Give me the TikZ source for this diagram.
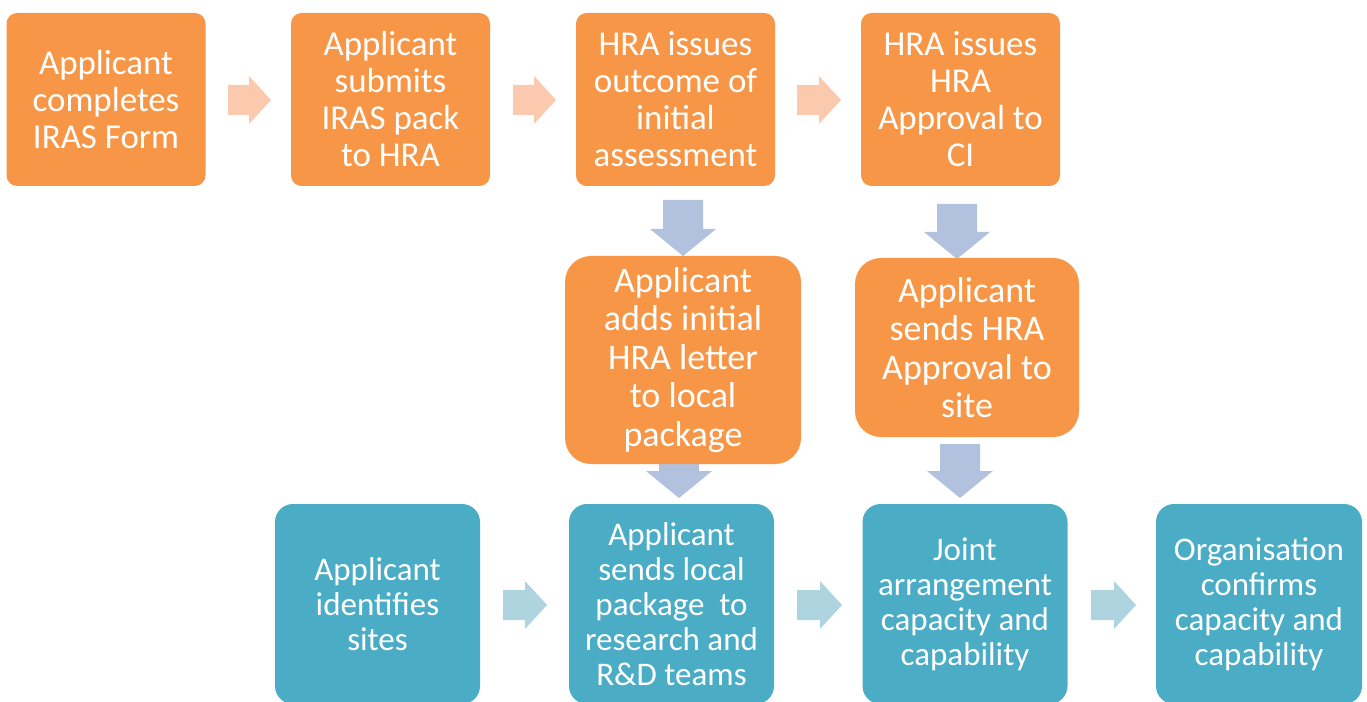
\documentclass[tikz,border=0pt]{standalone}
\usepackage{fontspec}
\setmainfont{Carlito}
\definecolor{orangebox}{HTML}{F79646}
\definecolor{tealbox}{HTML}{4BACC6}
\definecolor{peach}{HTML}{FBC9AE}
\definecolor{bluegrey}{HTML}{B2C1DD}
\definecolor{paleteal}{HTML}{ADD4DF}
\def\pxu{0.75pt}
% horizontal block arrow: x1, tip x, y centre, colour
\newcommand\harr[4]{%
  \fill[#4] (#1,#3-15) -- ({#2-22},#3-15) -- ({#2-22},#3-24) -- (#2,#3)
    -- ({#2-22},#3+24) -- ({#2-22},#3+15) -- (#1,#3+15) -- cycle;}
% vertical block arrow: x centre, y1, head start y, tip y
\newcommand\varr[4]{%
  \fill[bluegrey] (#1-20,#2) -- (#1+20,#2) -- (#1+20,#3) -- (#1+33,#3) -- (#1,#4)
    -- (#1-33,#3) -- (#1-20,#3) -- cycle;}
\tikzset{
  box/.style={rectangle, text=white, align=center, inner sep=0pt},
  topbox/.style={box, fill=orangebox, rounded corners=8pt,
    minimum width=199*\pxu, minimum height=173*\pxu,
    font=\fontsize{26.2}{27.75}\selectfont},
  midbox/.style={box, fill=orangebox, rounded corners=19.5pt,
    font=\fontsize{27}{28.9}\selectfont},
  botbox/.style={box, fill=tealbox, rounded corners=13.5pt,
    minimum width=205*\pxu, minimum height=200*\pxu,
    font=\fontsize{24.75}{26.25}\selectfont},
}
\begin{document}
\begin{tikzpicture}[x=0.75pt,y=-0.75pt]
\useasboundingbox (0,0) rectangle (1367,702);
\begin{scope}
\clip (0,0) rectangle (1367,702);
% connectors (block arrows)
\harr{228}{271}{100}{peach}
\harr{513}{556}{100}{peach}
\harr{797}{841}{100}{peach}
\varr{683}{200}{229}{256}
\varr{957}{204}{232}{259}
\varr{679}{440}{471}{498}
\varr{960}{444}{471}{498}
\harr{503}{547}{605}{paleteal}
\harr{797}{842}{605}{paleteal}
\harr{1091}{1136}{605}{paleteal}
% top row
\node[topbox] (b1) at (106,99.5) {Applicant\\completes\\IRAS Form};
\node[topbox] (b2) at (390.5,99.5) {Applicant\\submits\\IRAS pack\\to HRA};
\node[topbox] (b3) at (675.5,99.5) {HRA issues\\outcome of\\initial\\assessment};
\node[topbox] (b4) at (960.5,99.5) {HRA issues\\HRA\\Approval to\\CI};
% middle row
\node[midbox, minimum width=236*\pxu, minimum height=208*\pxu] (b5) at (683,360)
  {Applicant\\adds initial\\HRA letter\\to local\\package};
\node[midbox, minimum width=224*\pxu, minimum height=179*\pxu] (b6) at (967,347.5)
  {Applicant\\sends HRA\\Approval to\\site};
% bottom row
\node[botbox] (b7) at (377.5,604) {Applicant\\identifies\\sites};
\node[botbox] (b8) at (671.5,604) {Applicant\\sends local\\package\ \ to\\research and\\R\&D teams};
\node[botbox] (b9) at (965,604) {Joint\\arrangement\\capacity and\\capability};
\node[botbox, minimum width=206*\pxu] (b10) at (1259,604) {Organisation\\confirms\\capacity and\\capability};
\end{scope}
\end{tikzpicture}
\end{document}
